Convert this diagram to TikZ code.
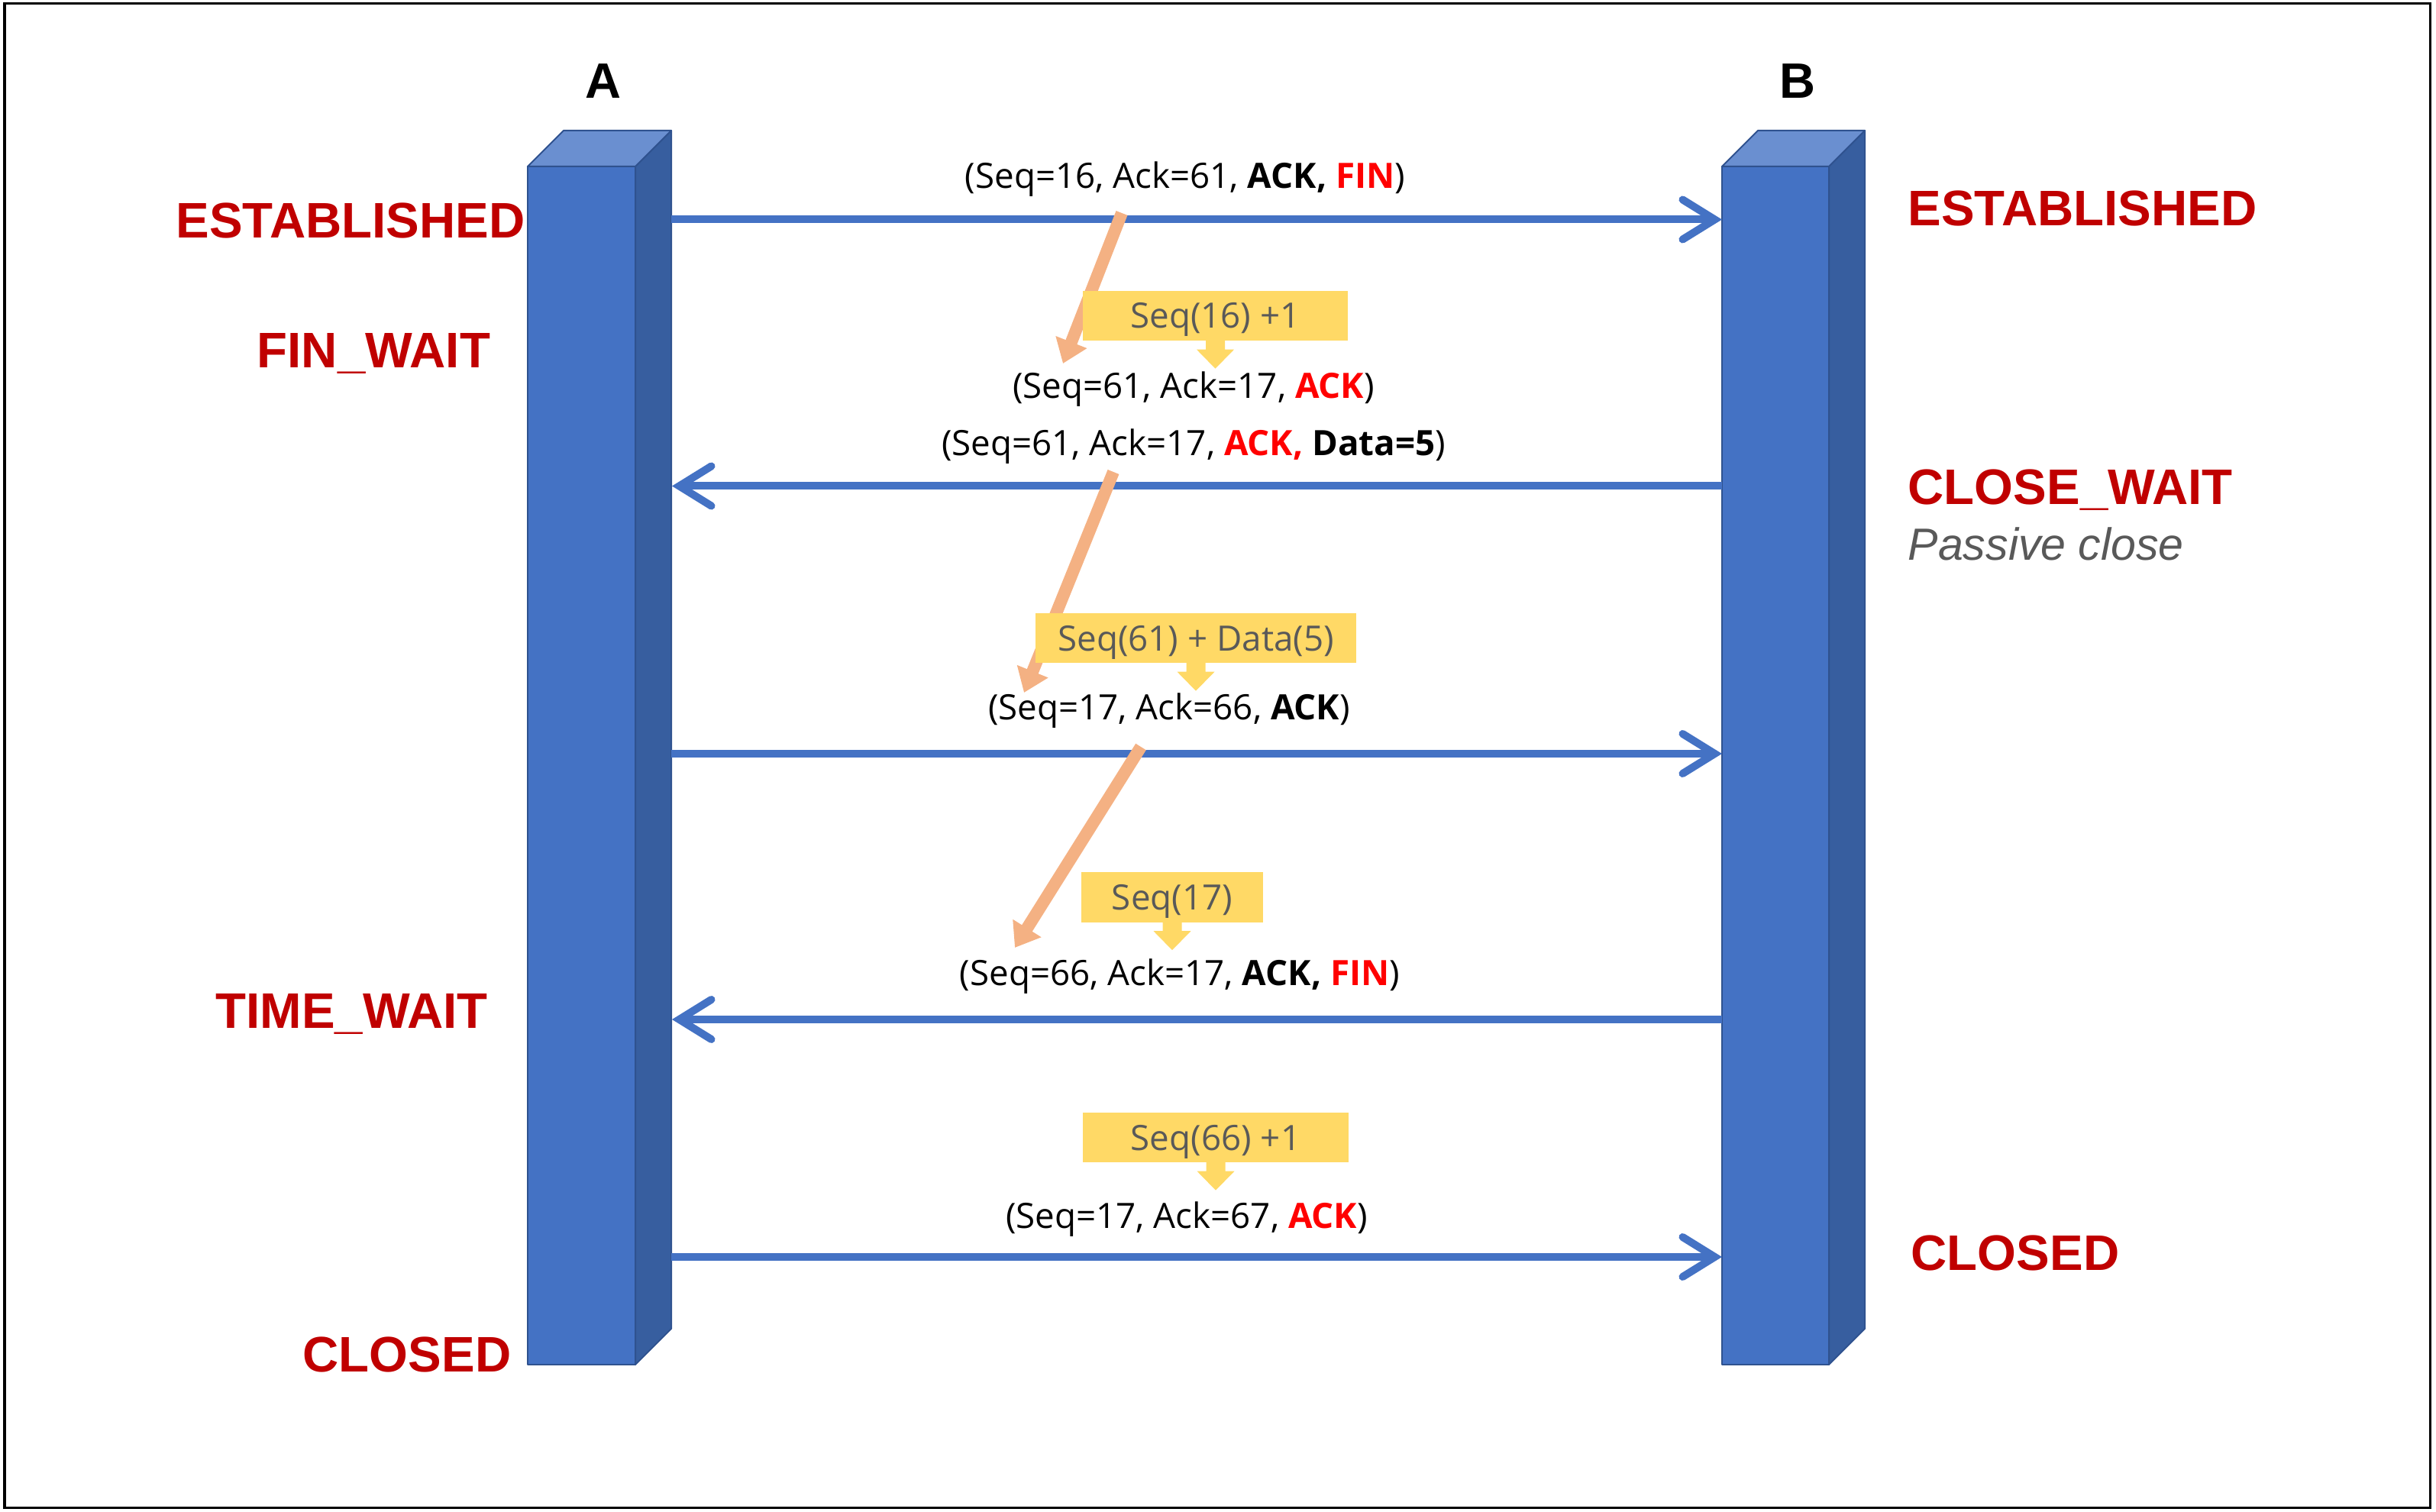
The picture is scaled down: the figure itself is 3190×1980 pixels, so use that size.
\documentclass[tikz,border=0pt]{standalone}
\usepackage{fontspec}
\setmainfont{Liberation Sans}
\newfontfamily\msgfont{Open Sans}
\usetikzlibrary{arrows.meta}
\definecolor{frontblue}{HTML}{4472C4}
\definecolor{sideblue}{HTML}{375E9F}
\definecolor{topblue}{HTML}{6A8FD0}
\definecolor{edgeblue}{HTML}{2F528F}
\definecolor{lblred}{HTML}{C00000}
\definecolor{txtred}{HTML}{FF0000}
\definecolor{gold}{HTML}{FFD966}
\definecolor{peach}{HTML}{F4B183}
\definecolor{greytxt}{HTML}{595959}
\begin{document}
\begin{tikzpicture}[x=0.01cm,y=-0.01cm,
  state/.style={font=\fontsize{18.6}{20}\selectfont\bfseries, text=lblred, inner sep=0pt, anchor=base west},
  host/.style={font=\fontsize{18.5}{20}\selectfont\bfseries, inner sep=0pt, anchor=base},
  msg/.style={font=\msgfont\fontsize{13}{15}\selectfont, inner sep=0pt, anchor=base},
  calcbox/.style={fill=gold, inner sep=0pt, text height=0.33cm, text depth=0pt, minimum height=0.65cm, font=\msgfont\fontsize{13}{15}\selectfont, text=greytxt},
  flow/.style={draw=frontblue, line width=0.1cm, -{Straight Barb[length=0.42cm, width=0.52cm, line cap=round, line join=miter]}},
  hint/.style={draw=peach, line width=0.16cm, -{Triangle[length=0.3cm,width=0.42cm]}},
  face/.style={draw=edgeblue, line width=0.02cm, line join=round},
]
\useasboundingbox (0,0) rectangle (3190,1980);
\draw[line width=0.03cm] (6,4.5) rectangle (3182,1974);

% pillar A
\filldraw[face, fill=frontblue] (691,218) rectangle (832,1787);
\filldraw[face, fill=sideblue] (832,218) -- (879,171) -- (879,1740) -- (832,1787) -- cycle;
\filldraw[face, fill=topblue] (691,218) -- (738,171) -- (879,171) -- (832,218) -- cycle;
% pillar B
\filldraw[face, fill=frontblue] (2255,218) rectangle (2395,1787);
\filldraw[face, fill=sideblue] (2395,218) -- (2442,171) -- (2442,1740) -- (2395,1787) -- cycle;
\filldraw[face, fill=topblue] (2255,218) -- (2302,171) -- (2442,171) -- (2395,218) -- cycle;

\node[host] (hA) at (789.5,129) {A};
\node[host] (hB) at (2354,129) {B};

% states
\node[state] (sA1) at (230,312) {ESTABLISHED};
\node[state] (sA2) at (336,482) {FIN\_WAIT};
\node[state] (sA3) at (282,1347) {TIME\_WAIT};
\node[state] (sA4) at (396,1796) {CLOSED};
\node[state] (sB1) at (2498,296) {ESTABLISHED};
\node[state] (sB2) at (2498,661) {CLOSE\_WAIT};
\node[inner sep=0pt, anchor=base west, text=greytxt, font=\fontsize{16.8}{18}\selectfont\itshape] (sB2b) at (2498,734) {Passive close};
\node[state] (sB3) at (2502,1663) {CLOSED};

% message lines
\coordinate (a1) at (879,287.5);  \coordinate (b1) at (2255,287.5);
\coordinate (a2) at (880,636.5);  \coordinate (b2) at (2255,636.5);
\coordinate (a3) at (879,987);    \coordinate (b3) at (2255,987);
\coordinate (a4) at (880,1335);   \coordinate (b4) at (2255,1335);
\coordinate (a5) at (879,1646);   \coordinate (b5) at (2255,1646);
\draw[flow] (a1) -- (b1);
\draw[flow] (b2) -- (a2);
\draw[flow] (a3) -- (b3);
\draw[flow] (b4) -- (a4);
\draw[flow] (a5) -- (b5);

% orange hints
\coordinate (t1) at (1469,279);  \coordinate (h1) at (1392,476);
\coordinate (t2) at (1458,618);  \coordinate (h2) at (1341,907);
\coordinate (t3) at (1494,978);  \coordinate (h3) at (1329,1241);
\draw[hint] (t1) -- (h1);
\draw[hint] (t2) -- (h2);
\draw[hint] (t3) -- (h3);

% calc boxes
\node[calcbox, minimum width=3.47cm] (c1) at (1591.5,413.5) {Seq(16) +1};
\node[calcbox, minimum width=4.20cm] (c2) at (1566,835.5) {Seq(61) + Data(5)};
\node[calcbox, minimum width=2.38cm] (c3) at (1535,1175) {Seq(17)};
\node[calcbox, minimum width=3.48cm] (c4) at (1592,1489.5) {Seq(66) +1};
\foreach \c in {c1,c2,c3,c4}{
  \fill[gold] (\c.south) ++(-12.5,-1) -- ++(0,12) -- ++(-12,0) -- ++(24.5,25) -- ++(24.5,-25) -- ++(-12,0) -- ++(0,-12) -- cycle;
}

% messages
\node[msg] (m1) at (1552,247) {(Seq=16, Ack=61, {\bfseries ACK,} {\bfseries\color{txtred}FIN})};
\node[msg] (m2) at (1563,522) {(Seq=61, Ack=17, {\bfseries\color{txtred}ACK})};
\node[msg] (m3) at (1563,597) {(Seq=61, Ack=17, {\bfseries\color{txtred}ACK,} {\bfseries Data=5})};
\node[msg] (m4) at (1531,943) {(Seq=17, Ack=66, {\bfseries ACK})};
\node[msg] (m5) at (1545,1291) {(Seq=66, Ack=17, {\bfseries ACK,} {\bfseries\color{txtred}FIN})};
\node[msg] (m6) at (1554,1608) {(Seq=17, Ack=67, {\bfseries\color{txtred}ACK})};
\end{tikzpicture}
\end{document}
